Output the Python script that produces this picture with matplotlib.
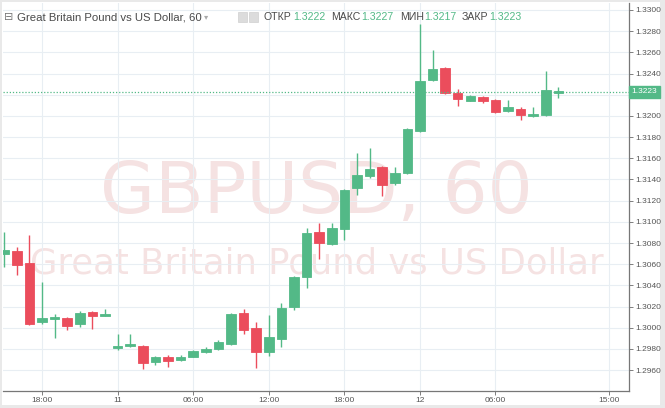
import numpy as np
import matplotlib.pyplot as plt
from matplotlib.patches import Rectangle

# hourly candles, first one is 15:00 on the 10th
opens = [1.3070, 1.3072, 1.3061, 1.3005, 1.3008, 1.3009, 1.3004, 1.3015, 1.3011,
         1.2981, 1.2983, 1.2983, 1.2968, 1.2972, 1.2970, 1.2972, 1.2977, 1.2980,
         1.2985, 1.3014, 1.3000, 1.2977, 1.2989, 1.3020, 1.3048, 1.3090, 1.3079,
         1.3093, 1.3132, 1.3143, 1.3152, 1.3137, 1.3146, 1.3186, 1.3234, 1.3245,
         1.3222, 1.3214, 1.3218, 1.3215, 1.3205, 1.3207, 1.3200, 1.3201, 1.3222]
highs = [1.3090, 1.3076, 1.3088, 1.3043, 1.3013, 1.3010, 1.3016, 1.3016, 1.3018,
         1.2994, 1.2994, 1.2984, 1.2973, 1.2974, 1.2974, 1.2979, 1.2982, 1.2988,
         1.3014, 1.3018, 1.3005, 1.3012, 1.3023, 1.3049, 1.3094, 1.3099, 1.3099,
         1.3131, 1.3165, 1.3170, 1.3153, 1.3152, 1.3189, 1.3287, 1.3262, 1.3246,
         1.3225, 1.3220, 1.3219, 1.3216, 1.3215, 1.3208, 1.3208, 1.3242, 1.3227]
lows = [1.3057, 1.3050, 1.3003, 1.3004, 1.2990, 1.2998, 1.3001, 1.2999, 1.3011,
        1.2979, 1.2982, 1.2961, 1.2965, 1.2963, 1.2969, 1.2972, 1.2976, 1.2979,
        1.2984, 1.2994, 1.2962, 1.2973, 1.2982, 1.3017, 1.3038, 1.3065, 1.3078,
        1.3083, 1.3125, 1.3141, 1.3124, 1.3135, 1.3145, 1.3185, 1.3233, 1.3221,
        1.3209, 1.3214, 1.3212, 1.3203, 1.3204, 1.3196, 1.3199, 1.3200, 1.3217]
closes = [1.3073, 1.3059, 1.3004, 1.3009, 1.3010, 1.3002, 1.3014, 1.3011, 1.3013,
          1.2983, 1.2985, 1.2967, 1.2972, 1.2969, 1.2972, 1.2978, 1.2980, 1.2987,
          1.3013, 1.2998, 1.2977, 1.2991, 1.3019, 1.3048, 1.3089, 1.3080, 1.3094,
          1.3130, 1.3144, 1.3150, 1.3135, 1.3146, 1.3188, 1.3233, 1.3244, 1.3222,
          1.3216, 1.3219, 1.3214, 1.3204, 1.3208, 1.3201, 1.3202, 1.3224, 1.3223]

time_ticks = [3, 9, 15, 21, 27, 33, 39, 48]
time_labels = ['18:00', '11', '06:00', '12:00', '18:00', '12', '06:00', '15:00']
price_ticks = np.arange(1.2960, 1.33001, 0.002)
last_price = 1.3223

up = '#53b987'
down = '#eb4d5c'
W, H = 665, 408

fig = plt.figure(figsize=(W / 100, H / 100), dpi=100)
fig.patch.set_facecolor('#e9e9e9')
fig.patches.append(Rectangle((2 / W, 3 / H), 658 / W, 403 / H, transform=fig.transFigure,
                             facecolor='white', edgecolor='none', zorder=-10))
ax = fig.add_axes([3 / W, 17 / H, 626 / W, 388 / H])
ax.set_facecolor('none')

# watermark, behind the axes
fig.text(316 / W, 1 - 213 / H, 'GBPUSD, 60', ha='center', va='baseline',
         fontsize=51, color='#f5e2e2', family='DejaVu Sans', zorder=-5)
fig.text(317 / W, 1 - 274 / H, 'Great Britain Pound vs US Dollar', ha='center', va='baseline',
         fontsize=25.5, color='#f5e2e2', family='DejaVu Sans', zorder=-5)

x = np.arange(len(opens))
for i in x:
    o, h, l, c = opens[i], highs[i], lows[i], closes[i]
    col = up if c >= o else down
    ax.vlines(i, l, h, color=col, linewidth=1, zorder=3)
    bot = min(o, c)
    hgt = max(abs(c - o), 0.00012)
    ax.add_patch(Rectangle((i - 0.38, bot), 0.76, hgt, facecolor=col, edgecolor=col,
                           linewidth=0.6, zorder=4))

ax.axhline(last_price, color=up, linestyle=(0, (1, 1.5)), linewidth=0.9, zorder=5)

ax.set_xlim(-0.1, 49.6)
ax.set_ylim(1.29403, 1.33066)
ax.set_xticks(time_ticks)
ax.set_xticklabels(time_labels)
ax.set_yticks(price_ticks)
ax.set_yticklabels(['%.4f' % p for p in price_ticks])
ax.yaxis.tick_right()
ax.tick_params(axis='both', labelsize=6, colors='#6a6a6a', length=3, width=0.6,
               labelcolor='#555555', pad=1.5)
for lab in ax.get_xticklabels() + ax.get_yticklabels():
    lab.set_family('Liberation Sans')
ax.grid(True, color='#e8eef3', linewidth=0.8, zorder=0)
for s in ['top', 'left']:
    ax.spines[s].set_visible(False)
for s in ['bottom', 'right']:
    ax.spines[s].set_color('#777777')
    ax.spines[s].set_linewidth(0.9)

# price label on the axis
ax.text(1.004, last_price, '%.4f' % last_price, transform=ax.get_yaxis_transform(),
        ha='left', va='center', fontsize=6, color='white', family='Liberation Sans',
        bbox=dict(boxstyle='square,pad=0.3', facecolor=up, edgecolor=up), zorder=6)

# header line
hy = 1 - 17 / H
fig.text(4 / W, hy, '\u229f', fontsize=8, color='#777777', va='center', family='DejaVu Sans')
fig.text(17 / W, hy, 'Great Britain Pound vs US Dollar, 60', fontsize=8.2, color='#4a4a4a',
         va='center', family='Liberation Sans')
fig.text(204 / W, hy, '\u25be', fontsize=6, color='#aaaaaa', va='center', family='DejaVu Sans')
for bx in [238, 249]:
    fig.patches.append(Rectangle((bx / W, 1 - 22 / H), 9 / W, 10 / H, transform=fig.transFigure,
                                 facecolor='#dcdcdc', edgecolor='#cfcfcf', linewidth=0.5))
parts = [(263, 'ОТКР', '#4a4a4a'), (293, '1.3222', up), (331, 'МАКС', '#4a4a4a'),
         (361, '1.3227', up), (400, 'МИН', '#4a4a4a'), (424, '1.3217', up),
         (462, 'ЗАКР', '#4a4a4a'), (489, '1.3223', up)]
for px, txt, col in parts:
    fig.text(px / W, hy, txt, fontsize=7.6, color=col, va='center', family='Liberation Sans')

fig.savefig('out.png', dpi=100, facecolor=fig.get_facecolor())
